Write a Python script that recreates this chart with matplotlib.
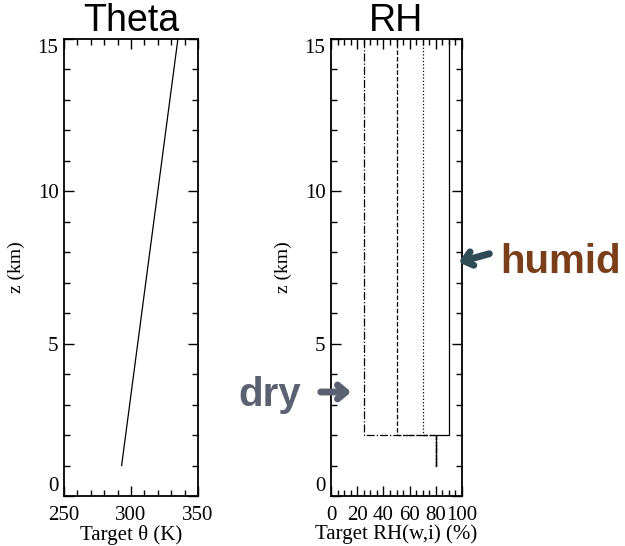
import numpy as np
import matplotlib
matplotlib.use('Agg')
import matplotlib.pyplot as plt
from matplotlib.ticker import MultipleLocator

# target potential temperature profile
theta_z = [1, 15]          # km
theta_k = [293, 335]       # K

# target RH profiles: 80% from 1-2 km, then constant aloft
rh_z = [1, 2, 2, 15]
rh_base = 80
rh_aloft = [25, 50, 70, 90]
rh_styles = ['-.', '--', ':', '-']

serif = 'Liberation Serif'
sans = 'Liberation Sans'

fig = plt.figure(figsize=(6.25, 5.46), dpi=100)
ax1 = fig.add_axes([0.1024, 0.0916, 0.2144, 0.837])
ax2 = fig.add_axes([0.5296, 0.0916, 0.2096, 0.837])

ax1.plot(theta_k, theta_z, color='k', lw=0.9)
ax1.set_xlim(250, 350)
ax1.xaxis.set_major_locator(MultipleLocator(50))
ax1.xaxis.set_minor_locator(MultipleLocator(10))
ax1.set_xlabel('Target θ (K)', fontfamily=serif, fontsize=15, labelpad=0)
ax1.set_title('Theta', fontfamily=sans, fontsize=27, pad=-3)

for v, ls in zip(rh_aloft, rh_styles):
    ax2.plot([rh_base, rh_base, v, v], rh_z, color='k', ls=ls, lw=0.9)
ax2.set_xlim(0, 100)
ax2.xaxis.set_major_locator(MultipleLocator(20))
ax2.xaxis.set_minor_locator(MultipleLocator(5))
ax2.set_xlabel('Target RH(w,i) (%)', fontfamily=serif, fontsize=15, labelpad=0)
ax2.set_title('RH', fontfamily=sans, fontsize=27, pad=-3)

for ax, lx in ((ax1, -0.29), (ax2, -0.298)):
    ax.set_ylim(0, 15)
    ax.yaxis.set_major_locator(MultipleLocator(5))
    ax.yaxis.set_minor_locator(MultipleLocator(1))
    ax.set_ylabel('z (km)', fontfamily=serif, fontsize=14)
    ax.yaxis.set_label_coords(lx, 0.5)
    ax.tick_params(which='both', direction='in', top=True, right=True,
                   width=1.0, labelsize=15)
    ax.tick_params(which='major', length=7)
    ax.tick_params(which='minor', length=4)
    ax.tick_params(axis='x', pad=7)
    ax.tick_params(axis='y', pad=4)
    for sp in ax.spines.values():
        sp.set_linewidth(1.3)

fig.canvas.draw()
for ax in (ax1, ax2):
    for lab in ax.get_xticklabels() + ax.get_yticklabels():
        lab.set_fontfamily(serif)
    # end labels sit inside the axis range
    for lab in ax.get_yticklabels():
        if lab.get_text() == '0':
            lab.set_va('bottom')
        elif lab.get_text() == '15':
            lab.set_va('top')

# labels with arrows
fig.text(270 / 625, 1 - 395 / 546, 'dry', fontfamily=sans, fontweight='bold',
         fontsize=29, color='#5b6170', ha='center', va='center')
fig.text(561 / 625, 1 - 262 / 546, 'humid', fontfamily=sans, fontweight='bold',
         fontsize=29, color='#7a3f18', ha='center', va='center')
arrow = '->,head_length=0.6,head_width=0.5'
ax2.annotate('', xy=(354 / 625, 1 - 392 / 546), xycoords='figure fraction',
             xytext=(318 / 625, 1 - 392 / 546), textcoords='figure fraction',
             arrowprops=dict(arrowstyle=arrow, color='#5b6170', lw=5,
                             capstyle='round', joinstyle='round'))
ax2.annotate('', xy=(456 / 625, 1 - 263 / 546), xycoords='figure fraction',
             xytext=(492 / 625, 1 - 253 / 546), textcoords='figure fraction',
             arrowprops=dict(arrowstyle=arrow, color='#2f4b55', lw=5,
                             capstyle='round', joinstyle='round'))

fig.savefig('out.png', dpi=100)
